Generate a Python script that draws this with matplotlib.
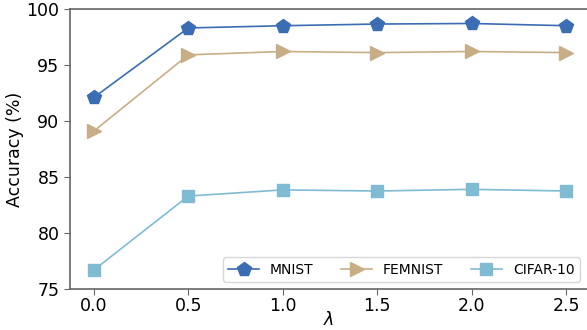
import matplotlib
matplotlib.use("Agg")
import matplotlib.pyplot as plt

# lambda values and accuracy per dataset
lambdas = [0.0, 0.5, 1.0, 1.5, 2.0, 2.5]
mnist = [92.1, 98.3, 98.5, 98.65, 98.7, 98.5]
femnist = [89.1, 95.9, 96.2, 96.1, 96.2, 96.1]
cifar10 = [76.7, 83.3, 83.85, 83.75, 83.9, 83.75]

fig = plt.figure(figsize=(5.87, 3.30), dpi=100)
ax = fig.add_axes([0.119, 0.124, 0.881, 0.849])

ax.plot(lambdas, mnist, color="#3a6db4", marker="p", markersize=10, linewidth=1.2, label="MNIST")
ax.plot(lambdas, femnist, color="#c8ae86", marker=">", markersize=10, linewidth=1.2, label="FEMNIST")
ax.plot(lambdas, cifar10, color="#7fbcd3", marker="s", markersize=9, linewidth=1.2, label="CIFAR-10")

ax.set_xlim(-0.127, 2.611)
ax.set_ylim(75, 100)
ax.set_xticks(lambdas)
ax.set_yticks([75, 80, 85, 90, 95, 100])
ax.tick_params(labelsize=12.5, color="#666666", length=4)
ax.tick_params(axis="x", pad=2)
ax.set_xlabel(r"$\lambda$", fontsize=12.5, labelpad=-3)
ax.set_ylabel("Accuracy (%)", fontsize=12.5, labelpad=1.5)

for side in ["left", "bottom", "top"]:
    ax.spines[side].set_color("#666666")
    ax.spines[side].set_linewidth(1.2)
ax.spines["right"].set_visible(False)

ax.legend(loc="lower right", ncol=3, fontsize=10, handlelength=2.2, columnspacing=2.0,
          borderaxespad=0.5)

fig.savefig("out.png", dpi=100)
